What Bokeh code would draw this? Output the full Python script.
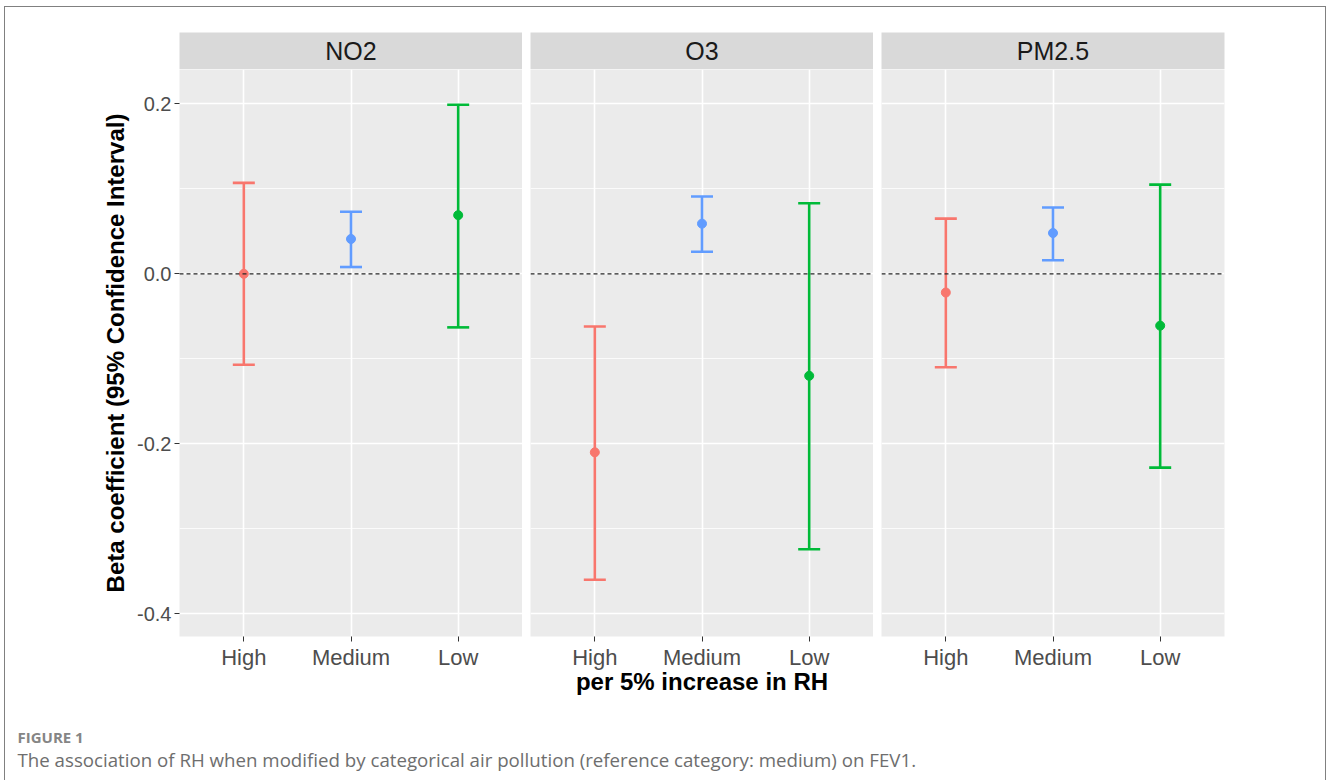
from bokeh.plotting import figure
from bokeh.models import (Range1d, FactorRange, FixedTicker, CategoricalTicker,
                          PrintfTickFormatter, Whisker, TeeHead, ColumnDataSource,
                          Span, Label)
from bokeh.layouts import column, row
from bokeh.embed import file_html
from bokeh.resources import INLINE
from bokeh.core.properties import value

# ---------------- data ----------------
levels = ["High", "Medium", "Low"]
panels = ["NO2", "O3", "PM2.5"]
level_colors = ["#F8766D", "#619CFF", "#00BA38"]

no2_beta = [0.000, 0.041, 0.069]
no2_lower = [-0.107, 0.008, -0.063]
no2_upper = [0.107, 0.073, 0.199]

o3_beta = [-0.210, 0.059, -0.120]
o3_lower = [-0.360, 0.026, -0.324]
o3_upper = [-0.062, 0.091, 0.083]

pm25_beta = [-0.022, 0.048, -0.061]
pm25_lower = [-0.110, 0.016, -0.228]
pm25_upper = [0.065, 0.078, 0.105]

y_ticks = [-0.4, -0.2, 0.0, 0.2]
y_minor = [-0.3, -0.1, 0.1]

y_title = "Beta coefficient (95% Confidence Interval)"
x_title = "per 5% increase in RH"
fig_label = "FIGURE 1"
caption = ("The association of RH when modified by categorical air pollution "
           "(reference category: medium) on FEV1.")

series = [(no2_beta, no2_lower, no2_upper),
          (o3_beta, o3_lower, o3_upper),
          (pm25_beta, pm25_lower, pm25_upper)]

FONT_NAME = "Liberation Sans"
FONT = value(FONT_NAME)
FRAME_W = 343
FRAME_H = 567
Y0, Y1 = -0.4267, 0.2404

strips = []
plots = []
for i, (name, (beta, lo, hi)) in enumerate(zip(panels, series)):
    left = 179 if i == 0 else 8
    right = 104 if i == 2 else 0
    xr = FactorRange(factors=levels, range_padding=0.1, range_padding_units="absolute")

    # ---- strip ----
    s = figure(x_range=xr, y_range=Range1d(0, 1), frame_width=FRAME_W, frame_height=37,
               min_border=0, min_border_left=left, min_border_right=right, min_border_top=32,
               x_axis_location=None, y_axis_location=None,
               toolbar_location=None, output_backend="svg")
    s.background_fill_color = "#D9D9D9"
    s.border_fill_color = None
    s.outline_line_color = None
    s.grid.visible = False
    s.text(x=["Medium"], y=[0.5], text=[name], text_align="center", text_baseline="middle",
           text_font=FONT, text_font_size="25px", text_color="#1A1A1A")
    strips.append(s)

    # ---- panel ----
    p = figure(x_range=xr, y_range=Range1d(Y0, Y1), frame_width=FRAME_W, frame_height=FRAME_H,
               min_border=0, min_border_left=left, min_border_right=right, min_border_bottom=64,
               y_axis_location="left" if i == 0 else None,
               toolbar_location=None, output_backend="svg")
    p.background_fill_color = "#EBEBEB"
    p.border_fill_color = None
    p.outline_line_color = None

    p.xgrid.ticker = CategoricalTicker()
    p.xgrid.grid_line_color = "white"
    p.xgrid.grid_line_width = 1.6
    p.ygrid.ticker = FixedTicker(ticks=y_ticks, minor_ticks=y_minor)
    p.ygrid.grid_line_color = "white"
    p.ygrid.grid_line_width = 1.6
    p.ygrid.minor_grid_line_color = "white"
    p.ygrid.minor_grid_line_width = 0.8

    # x axis
    ax = p.xaxis[0]
    ax.axis_line_color = None
    ax.major_tick_line_color = "#333333"
    ax.major_tick_in = 0
    ax.major_tick_out = 5
    ax.major_label_text_font = FONT_NAME
    ax.major_label_text_font_size = "22px"
    ax.major_label_text_color = "#4D4D4D"
    ax.major_label_standoff = 3
    if i == 1:
        ax.axis_label = x_title
        ax.axis_label_text_font = FONT_NAME
        ax.axis_label_text_font_size = "24px"
        ax.axis_label_text_font_style = "bold"
        ax.axis_label_text_color = "black"
        ax.axis_label_standoff = -5

    if i == 0:
        ay = p.yaxis[0]
        ay.ticker = FixedTicker(ticks=y_ticks, minor_ticks=y_minor)
        ay.formatter = PrintfTickFormatter(format="%.1f")
        ay.axis_line_color = None
        ay.major_tick_line_color = "#333333"
        ay.major_tick_in = 0
        ay.major_tick_out = 5
        ay.minor_tick_line_color = None
        ay.major_label_text_font = FONT_NAME
        ay.major_label_text_font_size = "20px"
        ay.major_label_text_color = "#4D4D4D"
        ay.major_label_standoff = 3
        ay.axis_label = y_title
        ay.axis_label_text_font = FONT_NAME
        ay.axis_label_text_font_size = "24px"
        ay.axis_label_text_font_style = "bold"
        ay.axis_label_text_color = "black"
        ay.axis_label_standoff = 5

    p.add_layout(Span(location=0, dimension="width", line_color="#262626",
                      line_width=1.2, line_dash="4 3"))

    for lvl, b, l, h, c in zip(levels, beta, lo, hi, level_colors):
        src = ColumnDataSource(dict(x=[lvl], lower=[l], upper=[h]))
        w = Whisker(source=src, base="x", lower="lower", upper="upper", dimension="height",
                    line_color=c, line_width=2.6,
                    upper_head=TeeHead(size=22, line_color=c, line_width=2.6),
                    lower_head=TeeHead(size=22, line_color=c, line_width=2.6))
        p.add_layout(w)
    p.scatter(x=levels, y=beta, color=level_colors, size=9)
    plots.append(p)

cap = figure(width=1328, height=80, x_range=Range1d(0, 1), y_range=Range1d(0, 1),
             min_border=0, x_axis_location=None, y_axis_location=None,
             toolbar_location=None, output_backend="svg")
cap.outline_line_color = None
cap.border_fill_color = None
cap.background_fill_color = None
cap.grid.visible = False
cap.add_layout(Label(x=17, y=44, x_units="screen", y_units="screen", text=fig_label,
                     text_font="Open Sans", text_font_size="15px",
                     text_font_style="bold", text_color="#858585", text_baseline="middle"))
cap.add_layout(Label(x=17, y=21, x_units="screen", y_units="screen", text=caption,
                     text_font="Open Sans", text_font_size="18.7px",
                     text_color="#6E6E6E", text_baseline="middle"))

frame_css = {
    "background-color": "white",
    "background-image": ("linear-gradient(#808080, #808080), "
                         "linear-gradient(#808080, #808080), "
                         "linear-gradient(#808080, #808080)"),
    "background-position": "4px 6px, 4px 6px, 1325px 6px",
    "background-size": "1px 100%, 1322px 1px, 1px 100%",
    "background-repeat": "no-repeat",
}

layout = column(row(*strips), row(*plots), cap, styles=frame_css)

open("out.html", "w").write(file_html(layout, INLINE))
